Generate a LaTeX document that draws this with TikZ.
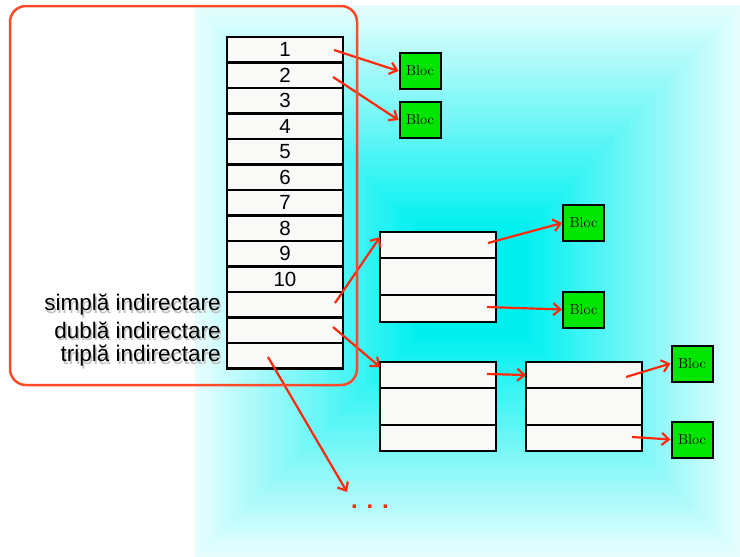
\documentclass[tikz,border=0pt]{standalone}
\usepackage{fontspec}
\newfontfamily\tabfont{Liberation Sans}
\usetikzlibrary{arrows.meta,positioning,calc}
\definecolor{arrowred}{RGB}{255,40,10}
\definecolor{rimred}{RGB}{255,75,40}
\definecolor{blocgreen}{RGB}{0,230,0}
\definecolor{cellfill}{RGB}{249,250,247}
\definecolor{aqua}{RGB}{0,240,240}
\tikzset{
  cell/.style={draw, line width=2.4pt, fill=cellfill, minimum width=116pt,
    inner sep=0pt, outer sep=0pt, anchor=north west,
    font=\tabfont\fontsize{20.5}{22}\selectfont},
  bloc/.style={draw, line width=2pt, fill=blocgreen, minimum width=41pt,
    minimum height=36pt, inner sep=0pt, font=\fontsize{14.5}{16}\selectfont},
  lbl/.style={inner sep=0pt, font=\tabfont\fontsize{22.5}{24}\selectfont},
  ptr/.style={arrowred, line width=2.2pt, -{Straight Barb[length=7pt,width=12pt]}},
}
\begin{document}
\begin{tikzpicture}[x=1pt, y=-1pt]
  \useasboundingbox (0,0) rectangle (740,557);
  % fond
  \foreach \k in {0,...,40}{
    \pgfmathsetmacro\xa{195+\k/40*(415-195)}
    \pgfmathsetmacro\ya{5+\k/40*(225-5)}
    \pgfmathsetmacro\xb{740-\k/40*(740-530)}
    \pgfmathsetmacro\yb{557-\k/40*(557-340)}
    \pgfmathtruncatemacro\p{10+90*\k/40}
    \fill[aqua!\p] (\xa,\ya) rectangle (\xb,\yb);
  }
  % i-node
  \foreach \i/\t in {1/1,2/2,3/3,4/4,5/5,6/6,7/7,8/8,9/9,10/10,11/,12/,13/}
    \node[cell, minimum height=25.5pt] (r\i) at (227,{37+25.5*(\i-1)}) {\t};
  \foreach \i/\t in {11/simplă,12/dublă,13/triplă}{
    \node[lbl, text=black!25, left=6pt of r\i, xshift=1.5pt, yshift=-2.5pt] (sh\i) {\t\ indirectare};
    \node[lbl, left=6pt of r\i] (l\i) {\t\ indirectare};
  }
  % blocuri de indirectare
  \node[cell, minimum height=26pt] (ta1) at (380,232) {};
  \node[cell, minimum height=37pt] (ta2) at (380,258) {};
  \node[cell, minimum height=27pt] (ta3) at (380,295) {};
  \node[cell, minimum height=26pt] (tb1) at (380,362) {};
  \node[cell, minimum height=37pt] (tb2) at (380,388) {};
  \node[cell, minimum height=26pt] (tb3) at (380,425) {};
  \node[cell, minimum height=26pt] (tc1) at (526,362) {};
  \node[cell, minimum height=37pt] (tc2) at (526,388) {};
  \node[cell, minimum height=26pt] (tc3) at (526,425) {};
  % blocuri de date
  \node[bloc] (bloc1) at (420,71) {Bloc};
  \node[bloc] (bloc2) at (420,120) {Bloc};
  \node[bloc] (bloc3) at (583.5,223) {Bloc};
  \node[bloc] (bloc4) at (583.5,309.5) {Bloc};
  \node[bloc] (bloc5) at (692,363.5) {Bloc};
  \node[bloc] (bloc6) at (692,439.5) {Bloc};
  \node[inner sep=0pt, text=arrowred, font=\tabfont\bfseries\fontsize{24}{24}\selectfont] (etc) at (370,507) {. . .};
  % pointeri
  \coordinate (p1) at (334,50);
  \coordinate (p2) at (333,77);
  \coordinate (p11) at (335,303);
  \coordinate (p12) at (333,327);
  \coordinate (p13) at (268,357);
  \coordinate (more) at (347,492);
  \coordinate (qa1) at (488,243);
  \coordinate (qa3) at (487,307);
  \coordinate (qb1) at (487,374);
  \coordinate (qc1) at (626,377);
  \coordinate (qc3) at (632,437);
  \draw[ptr] (p1) -- (bloc1.west);
  \draw[ptr] (p2) -- (bloc2.west);
  \draw[ptr] (p11) -- ([yshift=-5pt]ta1.north west);
  \draw[ptr] (p12) -- ([yshift=-5pt]tb1.north west);
  \draw[ptr] (p13) -- (more);
  \draw[ptr] (qa1) -- (bloc3.west);
  \draw[ptr] (qa3) -- (bloc4.west);
  \draw[ptr] (qb1) -- (tc1.west);
  \draw[ptr] (qc1) -- (bloc5.west);
  \draw[ptr] (qc3) -- (bloc6.west);
  % cadru
  \draw[rimred, line width=2.5pt, rounded corners=16pt] (10,6) rectangle (357,385);
\end{tikzpicture}
\end{document}
